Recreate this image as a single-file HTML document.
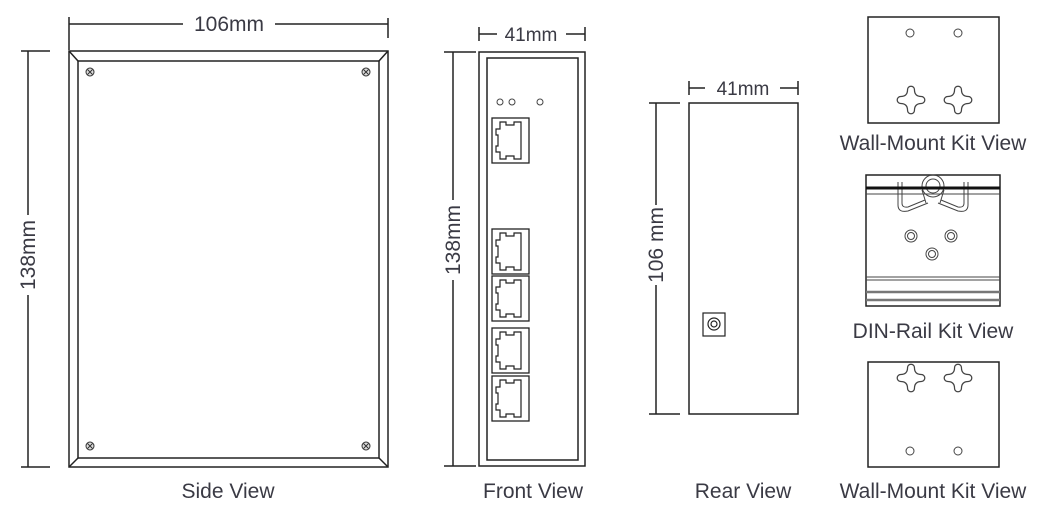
<!DOCTYPE html>
<html><head><style>
body{margin:0;background:#fff}
svg{display:block}
text{font-family:"Liberation Sans",Arial,sans-serif;fill:#3a3a44;font-size:21px}
</style></head><body>
<svg width="1058" height="520" viewBox="0 0 1058 520" xmlns="http://www.w3.org/2000/svg">
<defs>
<g id="rj">
<rect x="0" y="0" width="37" height="45" fill="none" stroke="#222" stroke-width="1.3"/>
<path d="M8,4 H14 V7 H22 V4 H29 V41 H22 V38 H14 V41 H8 V34 H4 V28 H6 V17 H4 V11 H8 Z" fill="none" stroke="#222" stroke-width="1.2"/>
</g>
<g id="screw">
<circle r="4" fill="#ddd" stroke="#333" stroke-width="1"/>
<path d="M-2.5,-2.5 L2.5,2.5 M2.5,-2.5 L-2.5,2.5" stroke="#333" stroke-width="1"/>
</g>
<path id="cross" d="M-3,-9 A3,3 0 0 1 3,-9 Q3,-3 9,-3 A3,3 0 0 1 9,3 Q3,3 3,9 A3,3 0 0 1 -3,9 Q-3,3 -9,3 A3,3 0 0 1 -9,-3 Q-3,-3 -3,-9 Z" fill="none" stroke="#444" stroke-width="1.1" transform="scale(1.15)"/>
</defs>
<g stroke="#222" stroke-width="1.5" fill="none">
<!-- Side view -->
<rect x="69" y="51" width="319" height="416"/>
<rect x="78" y="61" width="301" height="397"/>
<path d="M69,51 L78,61 M388,51 L379,61 M69,467 L78,458 M388,467 L379,458"/>
<path d="M69,17 V50 M69,24 H183 M275,24 H388 M388,18 V38"/>
<path d="M21,51 H50 M28,51 V215 M28,295 V467 M21,467 H50"/>
<!-- Front -->
<rect x="479" y="52" width="106" height="414"/>
<rect x="487" y="58" width="91" height="402"/>
<path d="M479,27 V41 M479,34 H497 M566,34 H585 M585,27 V41"/>
<path d="M444,52 H476 M453,52 V200 M453,280 V466 M444,466 H476"/>
<!-- Rear -->
<rect x="689" y="103" width="109" height="311"/>
<path d="M689,81 V95 M689,88 H705 M780,88 H798 M798,81 V95"/>
<path d="M649,103 H680 M656,103 V205 M656,285 V414 M649,414 H680"/>
<rect x="703" y="313" width="22" height="23" stroke-width="1.2"/>
<circle cx="714" cy="324" r="6" stroke-width="1.2"/><circle cx="714" cy="324" r="3" stroke-width="1.2"/>
<rect x="868" y="17" width="131" height="106"/>
<rect x="866" y="175" width="134" height="131"/>
<rect x="868" y="362" width="131" height="105"/>
</g>
<use href="#screw" x="90" y="72"/><use href="#screw" x="366" y="72"/>
<use href="#screw" x="90" y="446"/><use href="#screw" x="366" y="446"/>
<g fill="none" stroke="#444" stroke-width="1">
<circle cx="500" cy="102" r="3"/><circle cx="512" cy="102" r="3"/><circle cx="540" cy="102" r="3"/>
<circle cx="910" cy="33" r="4"/><circle cx="958" cy="33" r="4"/>
<circle cx="910" cy="451" r="4"/><circle cx="958" cy="451" r="4"/>
</g>
<use href="#rj" x="492" y="118"/>
<use href="#rj" x="492" y="229"/><use href="#rj" x="492" y="276"/>
<use href="#rj" x="492" y="328"/><use href="#rj" x="492" y="376"/>
<use href="#cross" x="911" y="100"/><use href="#cross" x="958" y="100"/>
<use href="#cross" x="911" y="378"/><use href="#cross" x="958" y="378"/>
<g fill="none" stroke="#444" stroke-width="1">
<path d="M866,189 H1000 M866,194 H1000"/>
<path d="M902,182 V203 Q902,208 908,207 L925,200 M964,182 V203 Q964,208 958,207 L941,200"/>
<path d="M898,182 V205 Q898,213 908,211 L928,203 M968,182 V205 Q968,213 958,211 L938,203"/>
<circle cx="933" cy="186" r="7"/><circle cx="933" cy="186" r="11"/>
<path d="M922,190 L926,203 M944,190 L940,203"/>
<circle cx="911" cy="236" r="6"/><circle cx="911" cy="236" r="3.5"/>
<circle cx="951" cy="236" r="6"/><circle cx="951" cy="236" r="3.5"/>
<circle cx="932" cy="254" r="6"/><circle cx="932" cy="254" r="3.5"/>
<path d="M866,277 H1000 M866,280 H1000"/>
</g>
<path d="M866,188 H1000" stroke="#111" stroke-width="3"/>
<path d="M866,292 H1000 M866,300 H1000" stroke="#777" stroke-width="2.5"/>
<text x="229" y="31" text-anchor="middle">106mm</text>
<text x="531" y="41" text-anchor="middle" style="font-size:19px">41mm</text>
<text x="743" y="95" text-anchor="middle" style="font-size:19px">41mm</text>
<text transform="translate(35,255) rotate(-90)" text-anchor="middle">138mm</text>
<text transform="translate(460,240) rotate(-90)" text-anchor="middle">138mm</text>
<text transform="translate(663,245) rotate(-90)" text-anchor="middle">106 mm</text>
<text x="228" y="498" text-anchor="middle">Side View</text>
<text x="533" y="498" text-anchor="middle">Front View</text>
<text x="743" y="498" text-anchor="middle">Rear View</text>
<text x="933" y="150" text-anchor="middle">Wall-Mount Kit View</text>
<text x="933" y="338" text-anchor="middle">DIN-Rail Kit View</text>
<text x="933" y="498" text-anchor="middle">Wall-Mount Kit View</text>
</svg>
</body></html>
